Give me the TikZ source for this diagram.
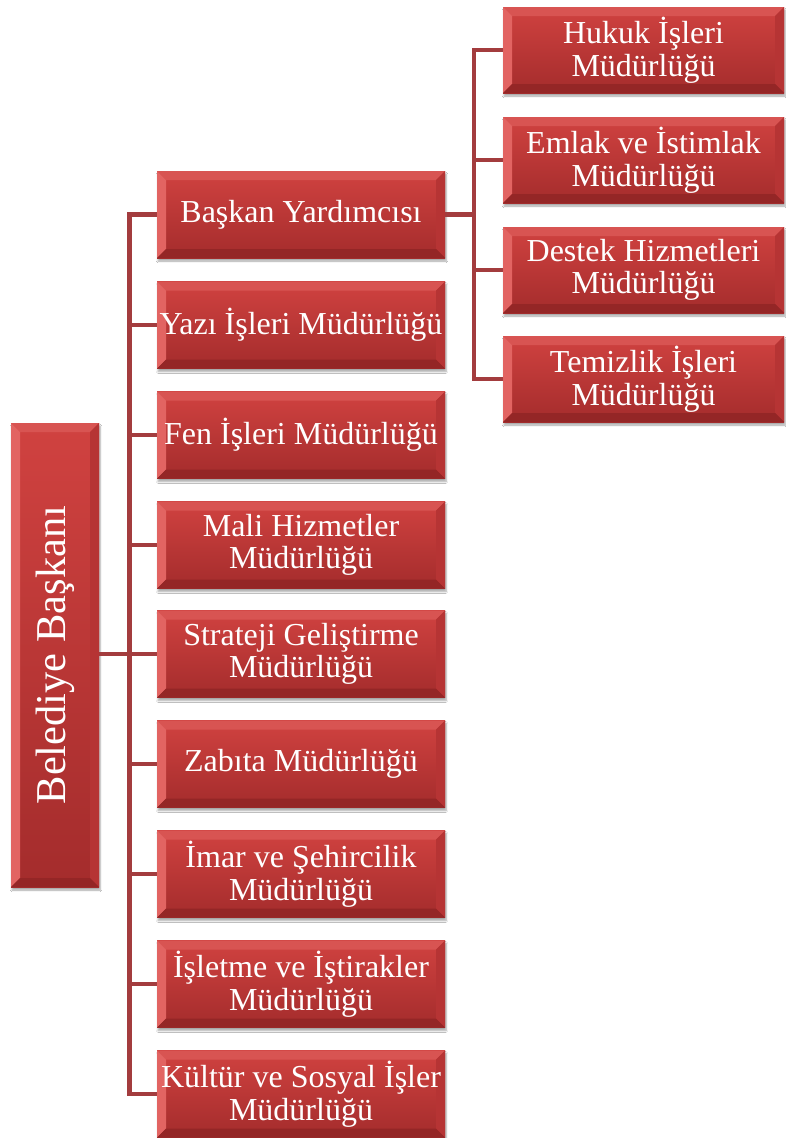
\documentclass[tikz,border=0pt]{standalone}
\usepackage{fontspec}
\setmainfont{Liberation Serif}
\usetikzlibrary{shadows.blur,calc}
\definecolor{boxtop}{RGB}{208,66,64}
\definecolor{boxbot}{RGB}{164,44,44}
\definecolor{bvtop}{RGB}{216,84,82}
\definecolor{bvleft}{RGB}{226,100,98}
\definecolor{bvright}{RGB}{182,52,52}
\definecolor{bvbot}{RGB}{148,38,38}
\definecolor{connc}{RGB}{163,60,62}
\tikzset{
  bevel/.style={path picture={
    \fill[bvtop] (path picture bounding box.north west) -- (path picture bounding box.north east)
      -- ([shift={(-9,9)}]path picture bounding box.north east) -- ([shift={(9,9)}]path picture bounding box.north west) -- cycle;
    \fill[bvleft] (path picture bounding box.north west) -- ([shift={(9,9)}]path picture bounding box.north west)
      -- ([shift={(9,-9)}]path picture bounding box.south west) -- (path picture bounding box.south west) -- cycle;
    \fill[bvright] (path picture bounding box.north east) -- ([shift={(-9,9)}]path picture bounding box.north east)
      -- ([shift={(-9,-9)}]path picture bounding box.south east) -- (path picture bounding box.south east) -- cycle;
    \fill[bvbot] (path picture bounding box.south west) -- ([shift={(9,-9)}]path picture bounding box.south west)
      -- ([shift={(-9,-9)}]path picture bounding box.south east) -- (path picture bounding box.south east) -- cycle;
  }},
  orgbox/.style={rectangle, top color=boxtop, bottom color=boxbot, bevel,
    text=white, align=center, inner sep=1pt,
    font=\fontsize{32}{32.5}\selectfont,
    blur shadow={shadow xshift=1pt, shadow yshift=-3pt, shadow opacity=35, shadow blur steps=6}},
  lvone/.style={orgbox, minimum width=288, minimum height=87},
  lvtwo/.style={orgbox, minimum width=281, minimum height=86},
  conn/.style={draw=connc, line width=4.5pt, line join=miter}
}
\begin{document}
\begin{tikzpicture}[x=1pt,y=-1pt]
\useasboundingbox (0,0) rectangle (786,1138);
\fill[white] (0,0) rectangle (786,1138);
\coordinate (tx) at (129.5,0);
\coordinate (ty) at (474,0);
% boxes
\node[orgbox, minimum width=88, minimum height=464, font=\fontsize{42.5}{44}\selectfont] (root) at (55,655) {\rotatebox{90}{Belediye Başkanı}};
\node[lvone] (b1) at (301,214.5) {Başkan Yardımcısı};
\node[lvone] (b2) at (301,325) {Yazı İşleri Müdürlüğü};
\node[lvone] (b3) at (301,435) {Fen İşleri Müdürlüğü};
\node[lvone] (b4) at (301,545) {Mali Hizmetler\\Müdürlüğü};
\node[lvone] (b5) at (301,654) {Strateji Geliştirme\\Müdürlüğü};
\node[lvone] (b6) at (301,764) {Zabıta Müdürlüğü};
\node[lvone] (b7) at (301,874) {İmar ve Şehircilik\\Müdürlüğü};
\node[lvone] (b8) at (301,984) {İşletme ve İştirakler\\Müdürlüğü};
\node[lvone] (b9) at (301,1094) {Kültür ve Sosyal İşler\\Müdürlüğü};
\node[lvtwo] (e1) at (643.5,50) {Hukuk İşleri\\Müdürlüğü};
\node[lvtwo] (e2) at (643.5,160) {Emlak ve İstimlak\\Müdürlüğü};
\node[lvtwo] (e3) at (643.5,270) {Destek Hizmetleri\\Müdürlüğü};
\node[lvtwo] (e4) at (643.5,379) {Temizlik İşleri\\Müdürlüğü};
% connectors
\draw[conn] (b1.west) -- (b1.west -| tx) -- (b9.west -| tx) -- (b9.west);
\foreach \k in {2,...,8} {\draw[conn] (b\k.west) -- (b\k.west -| tx);}
\draw[conn] (root.east |- b5.west) -- (b5.west -| tx);
\draw[conn] (b1.east) -- (b1.east -| ty);
\draw[conn] (e1.west) -- (e1.west -| ty) -- (e4.west -| ty) -- (e4.west);
\foreach \k in {2,3} {\draw[conn] (e\k.west) -- (e\k.west -| ty);}
\end{tikzpicture}
\end{document}
